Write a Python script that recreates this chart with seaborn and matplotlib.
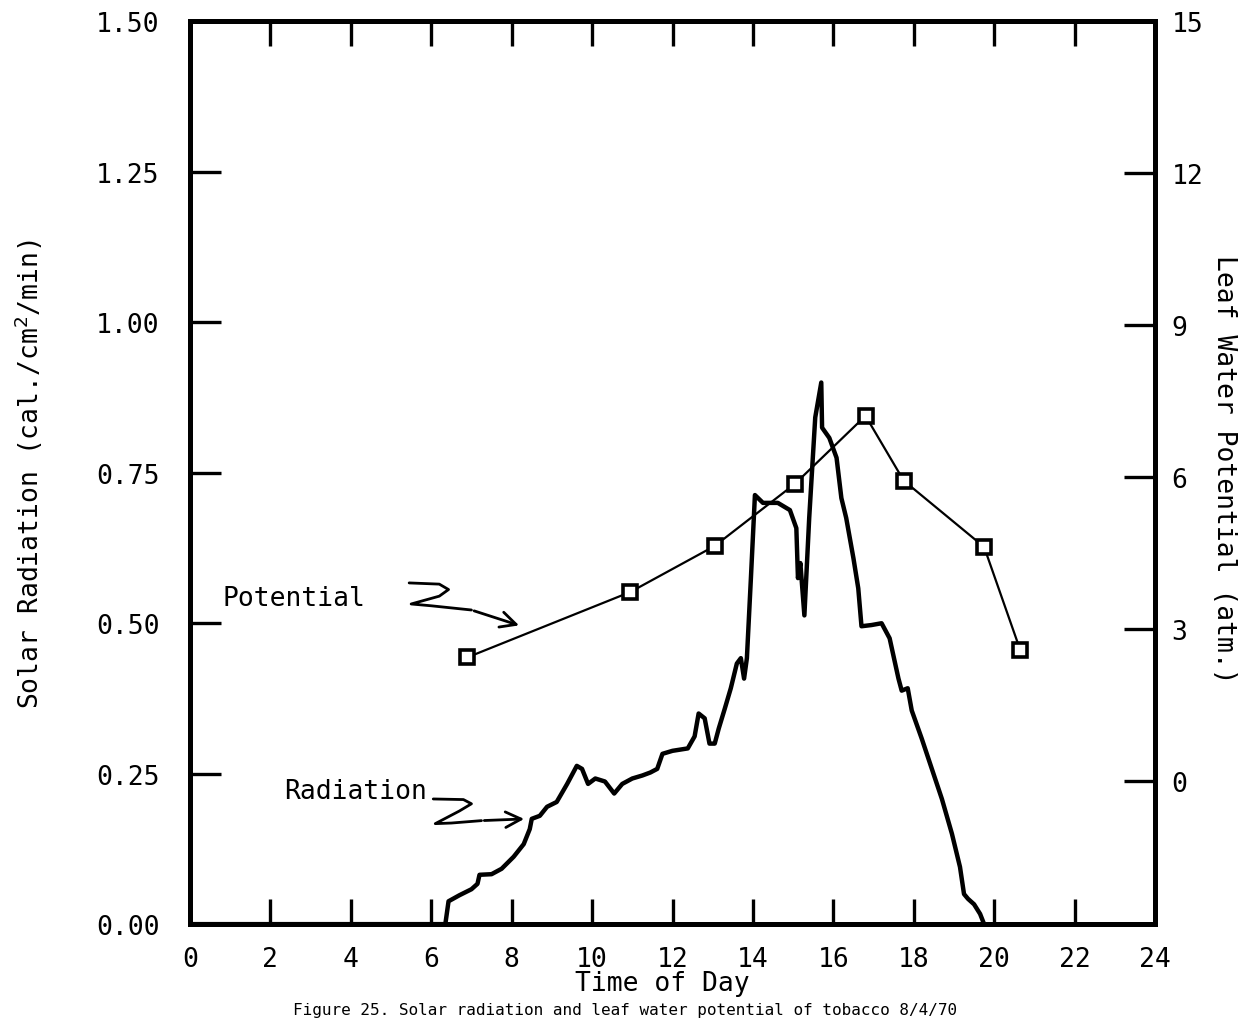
import matplotlib
matplotlib.use("Agg")
import matplotlib.pyplot as plt
import seaborn as sns
import pandas as pd

# ---------------- data ----------------
rad_hour = [0.0, 6.35, 6.43, 6.7, 7.0, 7.15, 7.2, 7.5, 7.75, 8.05, 8.3, 8.45, 8.5, 8.7,
            8.88, 9.12, 9.38, 9.62, 9.75, 9.9, 10.08, 10.32, 10.55, 10.75, 11.0, 11.25,
            11.45, 11.62, 11.75, 12.0, 12.38, 12.55, 12.65, 12.8, 12.92, 13.05, 13.15,
            13.3, 13.45, 13.6, 13.7, 13.78, 13.85, 13.95, 14.05, 14.25, 14.62, 14.92,
            15.08, 15.12, 15.18, 15.28, 15.4, 15.55, 15.7, 15.72, 15.9, 16.08, 16.2,
            16.32, 16.5, 16.62, 16.7, 16.95, 17.2, 17.4, 17.62, 17.7, 17.85, 17.95,
            18.2, 18.45, 18.7, 18.95, 19.15, 19.25, 19.35, 19.5, 19.65, 19.75]
rad_value = [0.0, 0.0, 0.038, 0.048, 0.058, 0.067, 0.082, 0.083, 0.092, 0.112, 0.133,
             0.158, 0.175, 0.18, 0.195, 0.203, 0.233, 0.263, 0.258, 0.233, 0.242, 0.237,
             0.217, 0.233, 0.242, 0.247, 0.252, 0.258, 0.283, 0.288, 0.292, 0.312, 0.35,
             0.342, 0.30, 0.30, 0.325, 0.358, 0.392, 0.433, 0.442, 0.408, 0.442, 0.575,
             0.713, 0.70, 0.70, 0.688, 0.658, 0.575, 0.60, 0.513, 0.675, 0.842, 0.90,
             0.825, 0.808, 0.775, 0.708, 0.675, 0.608, 0.558, 0.495, 0.497, 0.50, 0.475,
             0.408, 0.388, 0.392, 0.355, 0.308, 0.258, 0.208, 0.15, 0.095, 0.05, 0.042,
             0.033, 0.017, 0.0]

pot_hour = [6.9, 10.95, 13.05, 15.05, 16.8, 17.75, 19.75, 20.65]
pot_value = [2.44, 3.73, 4.64, 5.87, 7.21, 5.93, 4.62, 2.58]

x_ticks = list(range(0, 25, 2))
left_ticks = [0.0, 0.25, 0.50, 0.75, 1.00, 1.25, 1.50]
left_labels = ["0.00", "0.25", "0.50", "0.75", "1.00", "1.25", "1.50"]
right_ticks = [0, 3, 6, 9, 12, 15]

# annotation squiggles (hour, value) – layout of hand-drawn arrows
pot_squiggle_x = [5.45, 6.2, 6.43, 6.2, 5.5, 6.0, 7.0]
pot_squiggle_y = [0.567, 0.565, 0.556, 0.545, 0.532, 0.529, 0.522]
pot_arrow_tip = (8.25, 0.495)
rad_squiggle_x = [6.05, 6.8, 7.0, 6.7, 6.1, 6.5, 7.25]
rad_squiggle_y = [0.208, 0.207, 0.200, 0.188, 0.167, 0.168, 0.172]
rad_arrow_tip = (8.38, 0.175)

rad_df = pd.DataFrame({"hour": rad_hour, "value": rad_value})
pot_df = pd.DataFrame({"hour": pot_hour, "value": pot_value})

# ---------------- style ----------------
sns.set_theme(style="ticks")
plt.rcParams["font.family"] = ["DejaVu Sans Mono", "DejaVu Sans"]
FS = 19

fig = plt.figure(figsize=(12.5, 10.2), dpi=100)
ax = fig.add_axes([0.152, 0.093, 0.772, 0.885])
ax2 = ax.twinx()

sns.lineplot(data=rad_df, x="hour", y="value", ax=ax, color="black", linewidth=3.2,
             sort=False, estimator=None)
sns.lineplot(data=pot_df, x="hour", y="value", ax=ax2, color="black", linewidth=1.6,
             marker="s", markersize=10, markerfacecolor="white",
             markeredgecolor="black", markeredgewidth=2.6, sort=False, estimator=None)

ax.set_xlim(0, 24)
ax.set_ylim(0, 1.5)
ax2.set_ylim(-2.83, 15)

ax.set_xticks(x_ticks)
ax.set_xticklabels([str(t) for t in x_ticks], fontsize=FS)
ax.set_yticks(left_ticks)
ax.set_yticklabels(left_labels, fontsize=FS)
ax2.set_yticks(right_ticks)
ax2.set_yticklabels([str(t) for t in right_ticks], fontsize=FS)

ax.tick_params(axis="x", direction="in", length=18, width=2.4, pad=16,
               top=True, bottom=True, colors="black")
ax.tick_params(axis="y", direction="in", length=22, width=2.4, pad=22,
               left=True, right=False, colors="black")
ax2.tick_params(axis="y", direction="in", length=22, width=2.4, pad=12,
                colors="black")

for a in (ax, ax2):
    for s in a.spines.values():
        s.set_linewidth(3.6)
        s.set_color("black")
        s.set_visible(True)

ax.set_xlabel("Time of Day", fontsize=FS, color="black")
ax.xaxis.set_label_coords(0.489, -0.051)
ax.set_ylabel("Solar Radiation (cal./cm$^2$/min)", fontsize=FS, color="black")
ax.yaxis.set_label_coords(-0.150, 0.50)
ax2.set_ylabel("Leaf Water Potential (atm.)", fontsize=FS, color="black",
               rotation=270, va="center")
ax2.yaxis.set_label_coords(1.072, 0.505)

# annotations
ax.text(0.8, 0.542, "Potential", fontsize=FS, ha="left", va="center", color="black")
ax.plot(pot_squiggle_x, pot_squiggle_y, color="black", linewidth=2.0)
ax.annotate("", xy=pot_arrow_tip, xytext=(pot_squiggle_x[-1], pot_squiggle_y[-1]),
            arrowprops=dict(arrowstyle="->", color="black", lw=2.0,
                            mutation_scale=28))
ax.text(2.33, 0.222, "Radiation", fontsize=FS, ha="left", va="center", color="black")
ax.plot(rad_squiggle_x, rad_squiggle_y, color="black", linewidth=2.0)
ax.annotate("", xy=rad_arrow_tip, xytext=(rad_squiggle_x[-1], rad_squiggle_y[-1]),
            arrowprops=dict(arrowstyle="->", color="black", lw=2.0,
                            mutation_scale=28))

# caption along the bottom edge
fig.text(0.5, 0.0045, "Figure 25. Solar radiation and leaf water potential of tobacco 8/4/70",
         fontsize=11.5, ha="center", va="baseline", color="black")

fig.savefig("out.png", dpi=100)
